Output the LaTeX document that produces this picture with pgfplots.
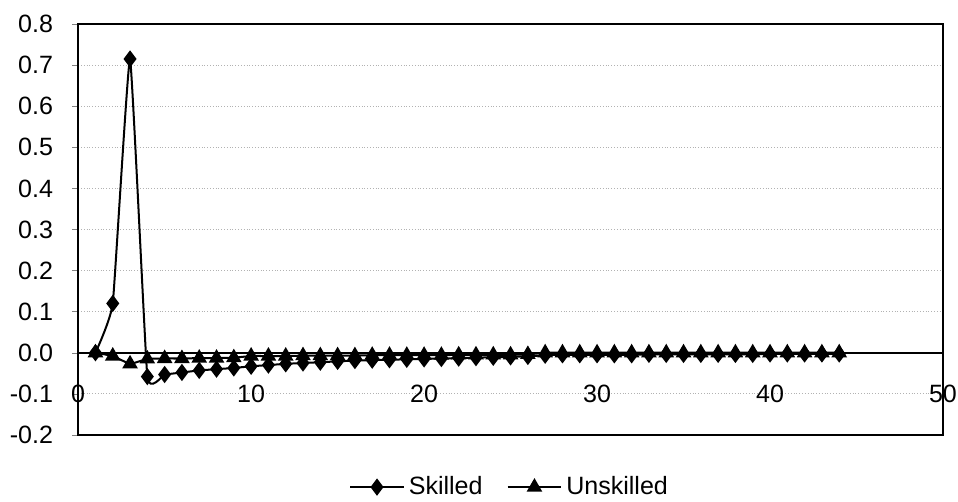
\documentclass[border=0pt]{standalone}
\usepackage{pgfplots}
\pgfplotsset{compat=1.18}
\usepackage{fontspec}
\setmainfont{Liberation Sans}
\begin{document}
\begin{tikzpicture}
\begin{axis}[
  scale only axis,
  width=431.5pt, height=205pt,
  xmin=0, xmax=50, ymin=-0.2, ymax=0.8,
  xtick={0,10,20,30,40,50},
  ytick={-0.2,-0.1,0,0.1,0.2,0.3,0.4,0.5,0.6,0.7,0.8},
  ytick pos=left,
  tick align=outside,
  major tick length=3pt,
  xtick style={draw=none},
  ymajorgrids,
  major grid style={gray!60, densely dotted},
  axis line style={black, line width=0.8pt},
  tick label style={font=\fontsize{12.5}{14}\selectfont},
  /pgf/number format/assume math mode=true,
  yticklabel={\pgfmathprintnumber[fixed,fixed zerofill,precision=1]{\tick}\hspace*{6pt}},
  xticklabel style={anchor=center, yshift=23.5pt},
  legend style={draw=none, at={(0.5,-0.127)}, anchor=center, legend columns=2,
    /tikz/every even column/.append style={column sep=10pt}, font=\fontsize{12.5}{14}\selectfont},
  legend cell align=left,
  legend image code/.code={\draw[mark repeat=2,mark phase=2,#1] plot coordinates {(0cm,0cm) (0.47cm,0cm) (0.94cm,0cm)};},
]
\draw[black, line width=0.8pt] (axis cs:0,0) -- (axis cs:50,0);
\addplot[black, line width=1pt, smooth, tension=0.2, mark=diamond*, mark size=3.5pt, mark options={solid}] coordinates {
(1,0.0) (2,0.12) (3,0.715) (4,-0.058) (5,-0.053) (6,-0.048) (7,-0.043) (8,-0.040) (9,-0.037) (10,-0.033)
(11,-0.030) (12,-0.027) (13,-0.025) (14,-0.023) (15,-0.021) (16,-0.019) (17,-0.018) (18,-0.017) (19,-0.016) (20,-0.015)
(21,-0.014) (22,-0.013) (23,-0.012) (24,-0.011) (25,-0.010) (26,-0.009) (27,-0.006) (28,-0.005) (29,-0.005) (30,-0.005)
(31,-0.005) (32,-0.005) (33,-0.004) (34,-0.004) (35,-0.004) (36,-0.004) (37,-0.004) (38,-0.004) (39,-0.004) (40,-0.003)
(41,-0.003) (42,-0.003) (43,-0.003) (44,-0.003)
};
\addlegendentry{Skilled}
\addplot[black, line width=1pt, smooth, tension=0.2, mark=triangle*, mark size=3.5pt] coordinates {
(1,0.0) (2,-0.008) (3,-0.027) (4,-0.015) (5,-0.014) (6,-0.014) (7,-0.013) (8,-0.013) (9,-0.012) (10,-0.008)
(11,-0.008) (12,-0.008) (13,-0.007) (14,-0.007) (15,-0.007) (16,-0.007) (17,-0.006) (18,-0.006) (19,-0.006) (20,-0.006)
(21,-0.006) (22,-0.005) (23,-0.005) (24,-0.005) (25,-0.005) (26,-0.004) (27,0.0) (28,0.0) (29,0.0) (30,0.0)
(31,0.0) (32,0.0) (33,0.0) (34,0.0) (35,0.0) (36,0.0) (37,0.0) (38,0.0) (39,0.0) (40,0.0)
(41,0.0) (42,0.0) (43,0.0) (44,0.0)
};
\addlegendentry{Unskilled}
\end{axis}
\pgfresetboundingbox
\path ([shift={(-39pt,-33pt)}]current axis.south west) rectangle ([shift={(7.5pt,12pt)}]current axis.north east);
\end{tikzpicture}
\end{document}
